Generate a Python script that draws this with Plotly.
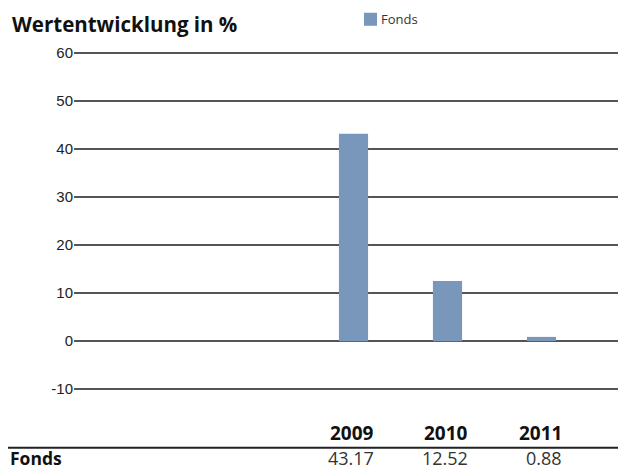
import plotly.graph_objects as go

# ---- data ----
years = [2009, 2010, 2011]
fonds = [43.17, 12.52, 0.88]
fonds_labels = ["43.17", "12.52", "0.88"]
series_name = "Fonds"
y_ticks = [-10, 0, 10, 20, 30, 40, 50, 60]
y_tick_text = ["-10", "0", "10", "20", "30", "40", "50", "60"]
title_text = "Wertentwicklung in %"

# ---- layout geometry (screen pixels; page body adds an 8px margin) ----
OFF = 8
W, H = 626 - OFF, 472 - OFF
top_px, bot_px = 48.2, 393.8      # screen y of plot area edges
left_px, right_px = 74, 626       # screen x of plot area edges
L = left_px - OFF
R = 0
T = top_px - OFF
B = H - (bot_px - OFF)
plot_h = H - T - B
plot_w = W - L - R

def py(p):  # screen pixel y -> paper y
    return (H - B - (p - OFF)) / plot_h

def px(p):  # screen pixel x -> paper x
    return (p - OFF - L) / plot_w

x0 = 2009 - (353.5 - left_px) / 94.0
x1 = 2011 + (right_px - 541.5) / 94.0

bar_color = "#7996bb"
grid_color = "#555555"

fig = go.Figure()
fig.add_trace(go.Bar(
    x=years, y=fonds, name=series_name,
    marker=dict(color=bar_color, line=dict(width=0)),
    width=0.31, showlegend=False,
))

fig.update_layout(
    width=W, height=H,
    margin=dict(l=L, r=R, t=T, b=B, pad=0),
    paper_bgcolor="white", plot_bgcolor="white",
    xaxis=dict(range=[x0, x1], showticklabels=False,
               showgrid=False, zeroline=False, showline=False, ticks=""),
    yaxis=dict(range=[-11, 61], tickvals=y_ticks, ticktext=y_tick_text,
               showgrid=True, gridcolor=grid_color, gridwidth=2,
               zeroline=True, zerolinecolor=grid_color, zerolinewidth=2,
               showline=False, ticks="",
               tickfont=dict(family="Liberation Sans, Arial", size=15, color="#222")),
    font=dict(family="Open Sans", color="#222"),
)

ann = []
# title
ann.append(dict(text=f"<b>{title_text}</b>", xref="paper", yref="paper",
                x=px(10), y=py(8), xanchor="left", yanchor="top",
                showarrow=False, font=dict(family="Open Sans", size=20.5, color="#111")))
# legend
ann.append(dict(text=series_name, xref="paper", yref="paper",
                x=px(379), y=py(19.5), xanchor="left", yanchor="middle",
                showarrow=False, font=dict(family="Open Sans", size=13, color="#333")))
shapes = [dict(type="rect", xref="paper", yref="paper",
               x0=px(364), x1=px(377), y0=py(26), y1=py(13),
               fillcolor=bar_color, line=dict(width=0))]

# table
for yr, lab in zip(years, fonds_labels):
    ann.append(dict(text=f"<b>{yr}</b>", xref="x", yref="paper",
                    x=yr, xanchor="right", xshift=22, y=py(447.5), yanchor="bottom",
                    showarrow=False, font=dict(family="Open Sans", size=19, color="#111")))
    ann.append(dict(text=lab, xref="x", yref="paper",
                    x=yr, xanchor="right", xshift=22, y=py(472), yanchor="bottom",
                    showarrow=False, font=dict(family="Open Sans", size=18, color="#333")))
ann.append(dict(text=f"<b>{series_name}</b>", xref="paper", yref="paper",
                x=px(8), y=py(472), xanchor="left", yanchor="bottom",
                showarrow=False, font=dict(family="Open Sans", size=17.5, color="#111")))
shapes.append(dict(type="line", xref="paper", yref="paper",
                   x0=px(8), x1=px(626), y0=py(447.5), y1=py(447.5),
                   line=dict(color="#222", width=2)))

fig.update_layout(annotations=ann, shapes=shapes)
fig.write_html("out.html")
